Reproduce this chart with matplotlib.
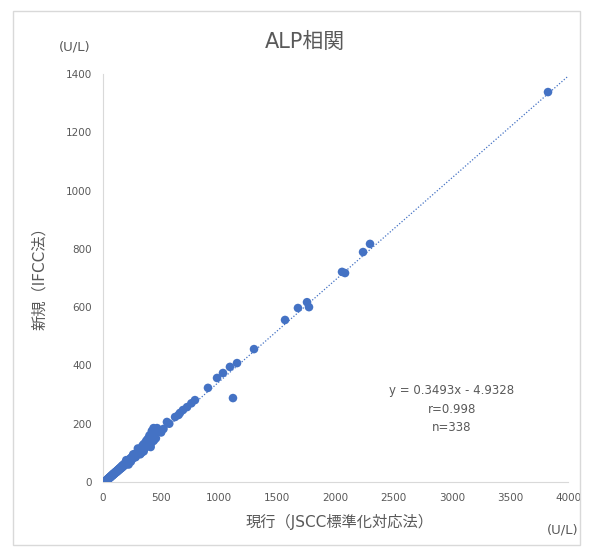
import matplotlib.pyplot as plt
from matplotlib.patches import Rectangle

plt.rcParams['font.family'] = ['DejaVu Sans', 'Noto Sans CJK JP']

# dense cluster (x: JSCC, y: IFCC)
x_low = [20, 25, 30, 35, 38, 40, 42, 45, 48, 50, 52, 55, 58, 60, 62, 63, 66, 68, 70, 72,
         75, 78, 80, 83, 85, 86, 88, 90, 92, 95, 98, 100, 103, 106, 108, 110, 112, 115,
         118, 120, 123, 126, 128, 130, 133, 136, 138, 140, 143, 146, 148, 150, 152, 155,
         158, 160, 163, 166, 168, 170, 173, 176, 178, 180, 183, 186, 188, 190, 193, 196,
         198, 200, 204, 206, 208, 212, 215, 218, 222, 224, 226, 230, 234, 236, 238, 242,
         246, 248, 250, 255, 258, 260, 265, 268, 270, 275, 278, 280, 285, 288, 290, 296,
         298, 302, 308, 312, 315, 322, 326, 330, 338, 342, 346, 350, 355, 360, 365, 370,
         375, 380, 385, 390, 395, 400, 405, 410, 415, 420, 425, 430, 435, 440, 445, 450,
         455, 460, 430, 440, 300, 320, 350, 370, 400, 410, 380, 340, 260, 240, 280, 200,
         220, 330, 450, 420, 435, 445]
y_low = [3, 5, 6, 8, 9, 9, 11, 10, 13, 13, 12, 15, 16, 15, 17, 18, 17, 20, 21, 19,
         22, 23, 22, 26, 25, 24, 27, 28, 26, 29, 31, 29, 33, 31, 33, 35, 33, 37,
         35, 38, 36, 41, 40, 39, 43, 41, 44, 46, 43, 48, 47, 46, 50, 47,
         52, 49, 55, 51, 55, 57, 53, 59, 58, 56, 62, 58, 62, 64, 60, 66,
         65, 62, 69, 68, 65, 72, 67, 74, 70, 74, 77, 72, 80, 78, 75, 83,
         78, 82, 86, 81, 86, 89, 84, 90, 93, 88, 93, 97, 91, 97, 100, 95,
         100, 105, 99, 105, 110, 103, 110, 115, 108, 116, 121, 130, 114, 122, 128, 125,
         121, 145, 135, 150, 128, 137, 142, 120, 134, 160, 150, 147, 141, 178, 158, 165,
         150, 172, 170, 145, 115, 95, 105, 140, 160, 150, 130, 125, 95, 70, 85, 75,
         60, 100, 175, 175, 185, 170]

# sparse high values
x_high = [465, 500, 520, 550, 570, 620, 650, 662, 688, 723, 760, 791, 903, 981, 1032,
          1092, 1118, 1153, 1299, 1566, 1677, 1755, 1772, 2056, 2082, 2237, 2297, 3828]
y_high = [185, 170, 182, 206, 200, 223, 230, 237, 247, 257, 270, 281, 323, 357, 374,
          395, 288, 408, 456, 556, 597, 617, 600, 721, 717, 789, 817, 1338]

slope, intercept = 0.3493, -4.9328
x_ticks = [0, 500, 1000, 1500, 2000, 2500, 3000, 3500, 4000]
y_ticks = [0, 200, 400, 600, 800, 1000, 1200, 1400]

blue = '#4472C4'
gray = '#595959'

fig = plt.figure(figsize=(5.92, 5.53), dpi=100)
fig.patches.append(Rectangle((13 / 592, 1 - 545 / 553), 567 / 592, 534 / 553,
                             transform=fig.transFigure, fill=False,
                             edgecolor='#D9D9D9', linewidth=1))
ax = fig.add_axes([103 / 592, 1 - 482 / 553, 465 / 592, 408 / 553])

ax.scatter(x_low + x_high, y_low + y_high, s=38, color=blue, edgecolors='none', zorder=3)
ax.plot([0, 4000], [intercept, slope * 4000 + intercept], linestyle=(0, (1, 1.5)),
        color=blue, linewidth=0.9, zorder=2)

ax.set_xlim(0, 4000)
ax.set_ylim(0, 1400)
ax.set_xticks(x_ticks)
ax.set_yticks(y_ticks)
ax.tick_params(length=0, labelsize=7.5, labelcolor=gray, pad=8)
for s in ['top', 'right']:
    ax.spines[s].set_visible(False)
for s in ['left', 'bottom']:
    ax.spines[s].set_color('#D9D9D9')

fig.text(305 / 592, 1 - 42 / 553, 'ALP相関', ha='center', va='center', fontsize=15, color=gray)
fig.text(75 / 592, 1 - 47 / 553, '(U/L)', ha='center', va='center', fontsize=9.5, color=gray)
fig.text(563 / 592, 1 - 530 / 553, '(U/L)', ha='center', va='center', fontsize=9.5, color=gray)
fig.text(340 / 592, 1 - 522 / 553, '現行（JSCC標準化対応法）', ha='center', va='center',
         fontsize=11, color=gray)
fig.text(40 / 592, 1 - 275 / 553, '新規（IFCC法）', ha='center', va='center', rotation=90,
         fontsize=11, color=gray)
ax.text(3002, 250, 'y = 0.3493x - 4.9328\nr=0.998\nn=338', ha='center', va='center',
        fontsize=8.5, color=gray, linespacing=1.55)

fig.savefig('out.png', dpi=100)
